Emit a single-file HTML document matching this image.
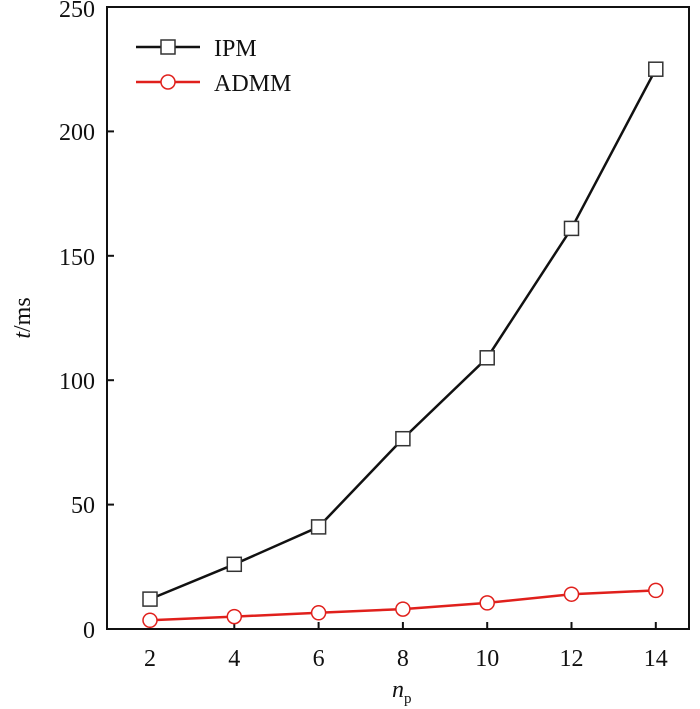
<!DOCTYPE html><html><head><style>body{margin:0;background:#fff}svg{display:block}text{font-family:"Liberation Serif",serif;font-size:24px;fill:#111}</style></head><body>
<svg width="700" height="709" xmlns="http://www.w3.org/2000/svg">
<rect x="107" y="7" width="582" height="622" fill="none" stroke="#111" stroke-width="2"/>
<g stroke="#111" stroke-width="2">
<line x1="150" y1="629" x2="150" y2="622"/><line x1="234.3" y1="629" x2="234.3" y2="622"/><line x1="318.6" y1="629" x2="318.6" y2="622"/><line x1="402.9" y1="629" x2="402.9" y2="622"/><line x1="487.2" y1="629" x2="487.2" y2="622"/><line x1="571.5" y1="629" x2="571.5" y2="622"/><line x1="655.8" y1="629" x2="655.8" y2="622"/>
<line x1="107" y1="504.6" x2="114" y2="504.6"/><line x1="107" y1="380.2" x2="114" y2="380.2"/><line x1="107" y1="255.8" x2="114" y2="255.8"/><line x1="107" y1="131.4" x2="114" y2="131.4"/>
</g>
<g text-anchor="middle">
<text x="150" y="666">2</text><text x="234.3" y="666">4</text><text x="318.6" y="666">6</text><text x="402.9" y="666">8</text><text x="487.2" y="666">10</text><text x="571.5" y="666">12</text><text x="655.8" y="666">14</text>
</g>
<g text-anchor="end">
<text x="95" y="638">0</text><text x="95" y="513">50</text><text x="95" y="389">100</text><text x="95" y="265">150</text><text x="95" y="140">200</text><text x="95" y="17">250</text>
</g>
<text x="392" y="697" font-style="italic">n<tspan font-size="15" font-style="normal" dy="6">p</tspan></text>
<text transform="translate(30,318) rotate(-90)" text-anchor="middle"><tspan font-style="italic">t</tspan>/ms</text>
<polyline fill="none" stroke="#111" stroke-width="2.5" points="150,599.1 234.3,564.3 318.6,526.9 402.9,438.7 487.2,357.8 571.5,228.4 655.8,69.2"/>
<g fill="#fff" stroke="#333" stroke-width="1.5">
<rect x="143" y="592.1" width="14" height="14"/><rect x="227.3" y="557.3" width="14" height="14"/><rect x="311.6" y="519.9" width="14" height="14"/><rect x="395.9" y="431.7" width="14" height="14"/><rect x="480.2" y="350.8" width="14" height="14"/><rect x="564.5" y="221.4" width="14" height="14"/><rect x="648.8" y="62.2" width="14" height="14"/>
</g>
<polyline fill="none" stroke="#e0201c" stroke-width="2.5" points="150,620.3 234.3,616.6 318.6,612.8 402.9,609.1 487.2,602.9 571.5,594.2 655.8,590.4"/>
<g fill="#fff" stroke="#e0201c" stroke-width="1.5">
<circle cx="150" cy="620.3" r="7"/><circle cx="234.3" cy="616.6" r="7"/><circle cx="318.6" cy="612.8" r="7"/><circle cx="402.9" cy="609.1" r="7"/><circle cx="487.2" cy="602.9" r="7"/><circle cx="571.5" cy="594.2" r="7"/><circle cx="655.8" cy="590.4" r="7"/>
</g>
<line x1="136" y1="47" x2="200" y2="47" stroke="#111" stroke-width="2.5"/>
<rect x="161" y="40" width="14" height="14" fill="#fff" stroke="#333" stroke-width="1.5"/>
<text x="214" y="56">IPM</text>
<line x1="136" y1="82" x2="200" y2="82" stroke="#e0201c" stroke-width="2.5"/>
<circle cx="168" cy="82" r="7" fill="#fff" stroke="#e0201c" stroke-width="1.5"/>
<text x="214" y="91">ADMM</text>
</svg></body></html>
